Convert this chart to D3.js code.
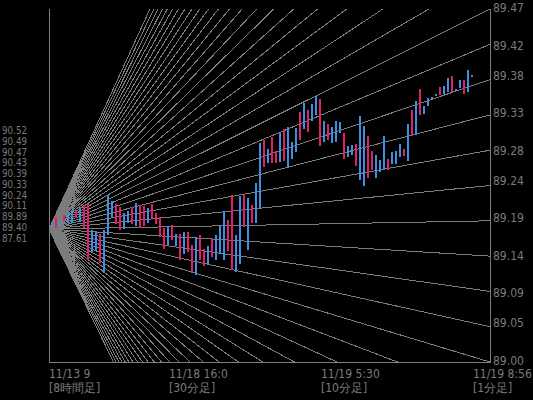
<!DOCTYPE html>
<html><head><meta charset="utf-8">
<script src="https://cdn.jsdelivr.net/npm/d3@7"></script>
<style>
body{margin:0;background:#000}
svg{display:block;background:#000}
text{font-family:"Liberation Sans Narrow","Arial Narrow","DejaVu Sans Condensed",sans-serif;font-size:12px;fill:#7a7a7a}
text.left{font-size:10.5px}
</style>
</head><body>
<svg id="c" width="533" height="400"></svg>
<script>
// ---- data ----
const rightTicks = [89.47, 89.42, 89.38, 89.33, 89.28, 89.24, 89.19, 89.14, 89.09, 89.05, 89.00];
const leftLabels = ["90.52","90.49","90.47","90.43","90.39","90.33","90.24","90.11","89.89","89.40","87.61"];
const segLabels = ["11/13 9","11/18 16:0","11/19 5:30","11/19 8:56"];
const segSubLabels = ["[8時間足]","[30分足]","[10分足]","[1分足]"];
const segStart = [0, 30, 68, 106];
const fanOrigin = 89.177;
const fanStep = 0.047;

const highs = [89.185,89.193,89.188,89.196,89.198,89.202,89.203,89.207,89.209,89.211,
89.176,89.173,89.170,89.176,89.222,89.215,89.211,89.206,89.198,89.201,
89.207,89.212,89.209,89.208,89.205,89.210,89.199,89.193,89.178,89.181,
89.182,89.170,89.171,89.173,89.173,89.156,89.167,89.169,89.151,89.154,
89.165,89.169,89.181,89.201,89.189,89.222,89.169,89.221,89.222,89.218,
89.209,89.238,89.291,89.295,89.283,89.299,89.281,89.305,89.310,89.313,
89.293,89.311,89.333,89.345,89.336,89.344,89.354,89.350,89.321,89.317,
89.313,89.321,89.319,89.305,89.287,89.289,89.290,89.327,89.314,89.301,
89.281,89.276,89.269,89.301,89.270,89.280,89.281,89.290,89.283,89.317,
89.336,89.347,89.364,89.341,89.351,89.353,89.357,89.366,89.367,89.378,
89.381,89.364,89.375,89.376,89.389,89.382];
const lows = [89.180,89.178,89.181,89.188,89.185,89.185,89.192,89.187,89.179,89.136,
89.147,89.149,89.131,89.119,89.169,89.193,89.184,89.176,89.177,89.185,
89.185,89.181,89.179,89.182,89.185,89.191,89.185,89.166,89.150,89.156,
89.162,89.154,89.137,89.144,89.147,89.120,89.116,89.136,89.129,89.129,
89.140,89.136,89.144,89.136,89.148,89.122,89.120,89.131,89.180,89.149,
89.185,89.185,89.205,89.259,89.265,89.265,89.265,89.267,89.267,89.258,
89.270,89.279,89.296,89.310,89.307,89.322,89.329,89.288,89.293,89.296,
89.292,89.293,89.305,89.271,89.273,89.276,89.261,89.242,89.234,89.245,
89.256,89.245,89.253,89.256,89.255,89.264,89.264,89.273,89.274,89.268,
89.302,89.302,89.330,89.330,89.341,89.351,89.355,89.356,89.357,89.359,
89.360,89.362,89.364,89.358,89.360,89.380];
const ups = [1,0,1,0,1,1,0,1,0,0, 1,1,0,1,1,1,0,0,1,1, 0,1,0,0,1,0,0,0,0,1,
0,1,0,1,0,0,1,0,0,1, 0,1,1,1,0,0,1,1,0,1, 0,1,1,0,1,0,0,1,0,1,
1,1,0,1,0,1,1,0,1,0, 1,1,1,0,1,1,0,1,1,0, 0,1,1,1,0,1,1,1,0,1,
0,1,0,1,1,1,1,0,1,1, 0,1,1,0,1,1];

// ---- layout ----
const L = 49, R = 490, T = 9, B = 362;
const svg = d3.select("#c");
const y = d3.scaleLinear().domain([89.00, 89.47]).range([B, T]);
const x = d3.scaleLinear().domain([0, 105]).range([51.7, 471.7]);
const gray = "#7c7c7c";

// fan
svg.append("clipPath").attr("id","clip").append("rect")
  .attr("x", L).attr("y", T).attr("width", R - L).attr("height", B - T);
const levels = d3.range(-21, 33).map(i => rightTicks[0] - i * fanStep);
const oy = y(fanOrigin);
svg.append("g").attr("clip-path","url(#clip)")
  .selectAll("line").data(levels).join("line")
  .attr("x1", L).attr("y1", oy)
  .attr("x2", L + (R - L) * 3)
  .attr("y2", d => oy + (y(d) - oy) * 3)
  .attr("stroke", gray).attr("stroke-width", 1).attr("shape-rendering","crispEdges");

// bars
svg.append("g").selectAll("rect").data(highs).join("rect")
  .attr("x", (d,i) => Math.round(x(i)) - 1)
  .attr("width", 2)
  .attr("y", d => Math.round(y(d)))
  .attr("height", (d,i) => Math.max(2, Math.round(y(lows[i]) - y(d))))
  .attr("fill", (d,i) => ups[i] ? "#3f8fe0" : "#e0206a")
  .attr("shape-rendering","crispEdges");

// frame
const fr = svg.append("g").attr("stroke", gray).attr("shape-rendering","crispEdges");
fr.append("line").attr("x1", L + 0.5).attr("x2", L + 0.5).attr("y1", T).attr("y2", B + 1);
fr.append("line").attr("x1", R + 0.5).attr("x2", R + 0.5).attr("y1", T).attr("y2", B + 1);
fr.append("line").attr("x1", L).attr("x2", R + 1).attr("y1", B + 0.5).attr("y2", B + 0.5);

// right axis labels
svg.append("g").selectAll("text").data(rightTicks).join("text")
  .attr("x", R + 3).attr("y", d => y(d) + 3)
  .text(d => d.toFixed(2));

// left labels
svg.append("g").selectAll("text").data(leftLabels).join("text")
  .attr("class","left")
  .attr("x", 2).attr("y", (d,i) => 134 + i * 10.77)
  .attr("textLength", 25).attr("lengthAdjust","spacingAndGlyphs")
  .text(d => d);

// bottom labels
const bl = svg.append("g");
bl.selectAll("text.a").data(segLabels).join("text").attr("class","a")
  .attr("x", (d,i) => x(segStart[i]) - 2.7).attr("y", 378).text(d => d);
bl.selectAll("text.b").data(segSubLabels).join("text").attr("class","b")
  .attr("x", (d,i) => x(segStart[i]) - 2.7).attr("y", 392).text(d => d);
</script>
</body></html>
